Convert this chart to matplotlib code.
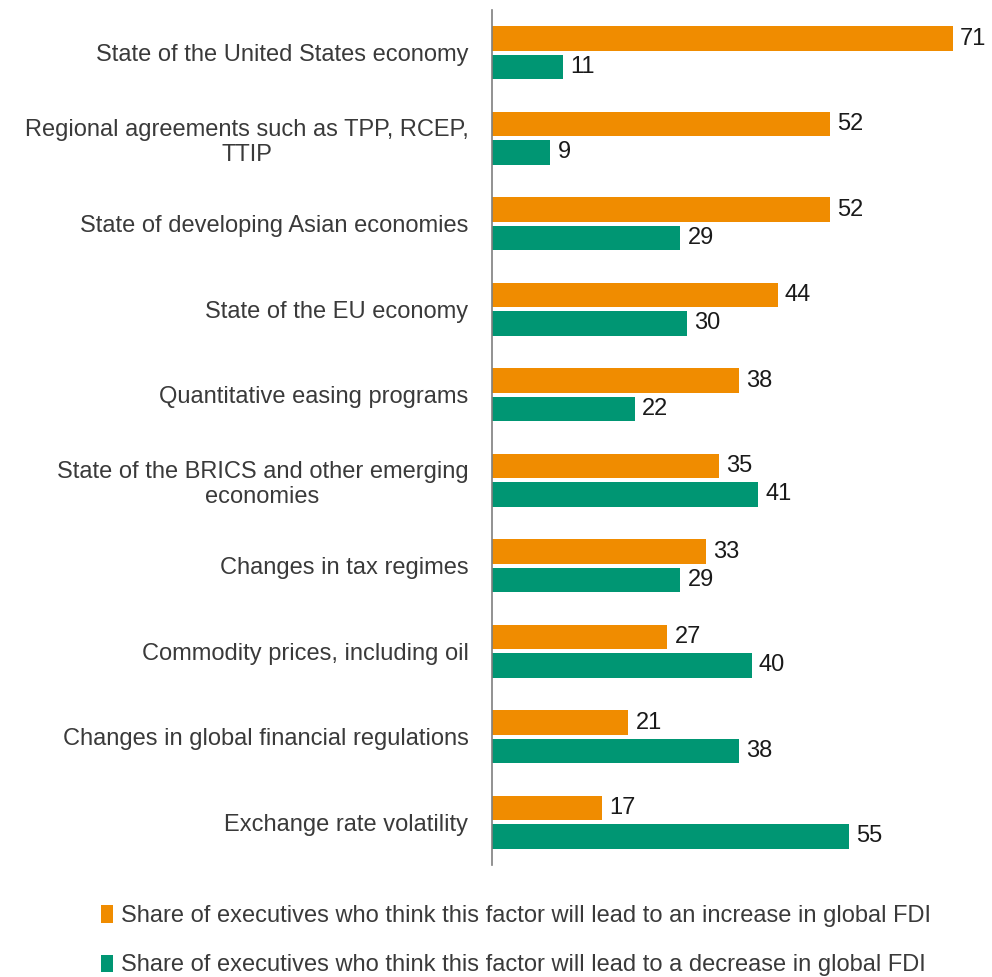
import matplotlib
matplotlib.use("Agg")
import matplotlib.pyplot as plt
import numpy as np

categories = [
    "State of the United States economy",
    "Regional agreements such as TPP, RCEP,\nTTIP",
    "State of developing Asian economies",
    "State of the EU economy",
    "Quantitative easing programs",
    "State of the BRICS and other emerging\neconomies",
    "Changes in tax regimes",
    "Commodity prices, including oil",
    "Changes in global financial regulations",
    "Exchange rate volatility",
]
increase = [71, 52, 52, 44, 38, 35, 33, 27, 21, 17]
decrease = [11, 9, 29, 30, 22, 41, 29, 40, 38, 55]
series_names = [
    "Share of executives who think this factor will lead to an increase in global FDI",
    "Share of executives who think this factor will lead to a decrease in global FDI",
]

orange = "#F08C00"
green = "#009673"
txt = "#3a3a3a"
numc = "#1a1a1a"

plt.rcParams['font.family'] = ['Liberation Sans', 'DejaVu Sans']

fig = plt.figure(figsize=(9.92, 9.77), dpi=100)
ax = fig.add_axes([492/992, 1-865/977, 500/992, 855/977])

y = np.arange(len(categories))
h = 0.285
off = 0.165
b1 = ax.barh(y - off, increase, height=h, color=orange, label=series_names[0])
b2 = ax.barh(y + off, decrease, height=h, color=green, label=series_names[1])

for yi, v in zip(y - off, increase):
    ax.text(v + 1.1, yi, str(v), va='center', ha='left', fontsize=17, color=numc)
for yi, v in zip(y + off, decrease):
    ax.text(v + 1.1, yi, str(v), va='center', ha='left', fontsize=17, color=numc)

ax.set_ylim(len(categories) - 0.5, -0.5)
ax.set_xlim(0, 77)
ax.set_yticks(y)
ax.set_yticklabels(categories, fontsize=17, color=txt, multialignment='center',
                   linespacing=1.2)
ax.tick_params(axis='y', length=0, pad=17)
ax.set_xticks([])
for s in ['top', 'right', 'bottom']:
    ax.spines[s].set_visible(False)
ax.spines['left'].set_color('#7f7f7f')
ax.spines['left'].set_linewidth(1.2)

fig.legend(handles=[b1, b2], labels=series_names, loc='upper left',
           bbox_to_anchor=(80/992, 1-884/977), frameon=False, ncol=1,
           fontsize=17, handlelength=0.5, handleheight=0.75, handletextpad=0.35,
           labelspacing=1.15, labelcolor=txt)

fig.savefig("out.png", dpi=100)
